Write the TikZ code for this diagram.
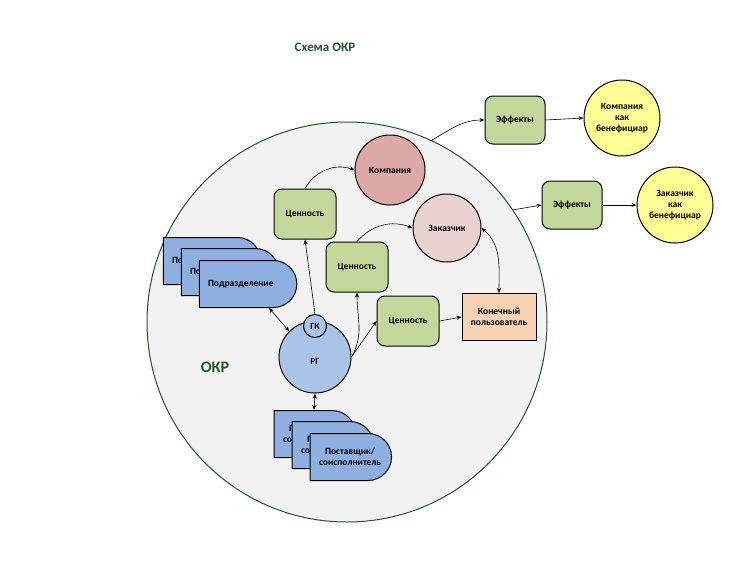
\documentclass[tikz,border=0pt]{standalone}
\usepackage{fontspec}
\setmainfont{Carlito}
\usetikzlibrary{shapes.misc,arrows.meta,positioning}
\definecolor{okrgray}{RGB}{242,242,242}
\definecolor{okrgreen}{RGB}{38,82,48}
\definecolor{valuegreen}{RGB}{196,215,155}
\definecolor{companyred}{RGB}{222,168,166}
\definecolor{clientpink}{RGB}{235,208,208}
\definecolor{userorange}{RGB}{250,210,180}
\definecolor{groupblue}{RGB}{170,196,232}
\definecolor{deptblue}{RGB}{142,176,224}
\definecolor{benyellow}{RGB}{255,255,150}

\begin{document}
\begin{tikzpicture}[
    x=1pt, y=-1pt,
    font=\fontsize{9.5}{11}\selectfont\bfseries,
    line width=1pt,
    value/.style={rectangle, rounded corners=8pt, draw, fill=valuegreen, minimum width=62pt, minimum height=50pt, align=center},
    actor/.style={circle, draw, inner sep=1pt, align=center},
    unit/.style={rounded rectangle, rounded rectangle left arc=none, draw, fill=deptblue, minimum width=104pt, minimum height=47pt, align=center},
    arrow/.style={-{Stealth[length=5pt,width=4pt]}, line width=0.6pt},
    both/.style={{Stealth[length=5pt,width=4pt]}-{Stealth[length=5pt,width=4pt]}, line width=0.6pt}
]
    \useasboundingbox (0,0) rectangle (750,579);
    \node[text=okrgreen, font=\fontsize{13}{15}\selectfont\bfseries] (title) at (325,47) {Схема ОКР};

    % большой круг ОКР
    \node[circle, draw=okrgreen, fill=okrgray, minimum size=400pt] (okr) at (347,322) {};
    \node[text=okrgreen, font=\fontsize{16}{18}\selectfont\bfseries] (okrlabel) at (215,367) {ОКР};

    % подразделения
    \node[unit, text width=80pt, align=left] (dept1) at (212,261) {Подразделение};
    \node[unit, text width=80pt, align=left] (dept2) at (230,272) {Подразделение};
    \node[unit, text width=80pt, align=left] (dept3) at (248,284) {Подразделение};

    % поставщики
    \node[unit, minimum width=88pt] (supp1) at (314,434) {Поставщик/\\соисполнитель};
    \node[unit, minimum width=88pt] (supp2) at (332,445) {Поставщик/\\соисполнитель};
    \node[unit, minimum width=88pt] (supp3) at (350,457) {Поставщик/\\соисполнитель};

    % рабочая группа
    \node[actor, fill=groupblue, minimum size=72pt] (rg) at (315,357) {\\[4pt]РГ};
    \node[actor, fill=groupblue, minimum size=23pt] (gk) at (315,326) {ГК};

    \node[value] (val1) at (305,214) {Ценность};
    \node[value] (val2) at (357,267) {Ценность};
    \node[value] (val3) at (408,321) {Ценность};
    \node[actor, fill=companyred, minimum size=70pt] (company) at (390,170) {Компания};
    \node[actor, fill=clientpink, minimum size=68pt] (client) at (447,228) {Заказчик};
    \node[rectangle, draw, fill=userorange, minimum width=74pt, minimum height=47pt, align=center] (user) at (499,317) {Конечный\\пользователь};

    \node[value, minimum width=60pt, minimum height=48pt] (eff1) at (515,120) {Эффекты};
    \node[value, minimum width=60pt, minimum height=48pt] (eff2) at (572,205) {Эффекты};
    \node[actor, fill=benyellow, minimum size=76pt] (ben1) at (622,118) {Компания\\как\\бенефициар};
    \node[actor, fill=benyellow, minimum size=76pt] (ben2) at (675,205) {Заказчик\\как\\бенефициар};

    \draw[arrow] (gk.north) -- (val1.south);
    \draw[arrow] (val1.north) to[bend left=40] (company.west);
    \draw[arrow] (rg.east) to[out=60, in=-90] (val2.south);
    \draw[arrow] (val2.north) to[bend left=35] (client.west);
    \draw[arrow] (rg.east) -- (val3.west);
    \draw[arrow] (val3.east) -- (user.west);
    \draw[both] (client.east) to[out=-40, in=90] (user.north);
    \draw[both] (dept3.south west) ++(70,0) coordinate (deptfoot) (deptfoot) -- (rg.north west);
    \draw[both] (rg.south) -- (supp1.north);

    \draw[arrow] (okr.65) to[out=30, in=180] (eff1.west);
    \draw[arrow] (eff1.east) -- (ben1.west);
    \draw[arrow] (okr.34) -- (eff2.west);
    \draw[arrow] (eff2.east) -- (ben2.west);
\end{tikzpicture}
\end{document}
